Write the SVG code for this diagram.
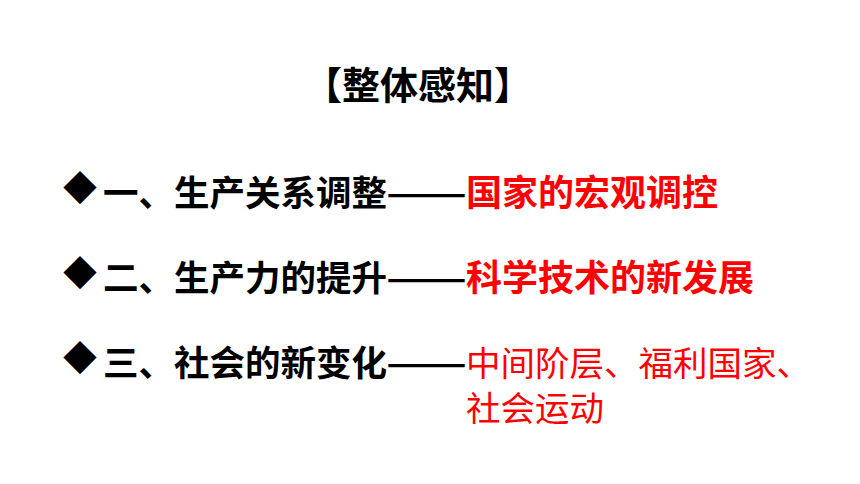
<svg xmlns="http://www.w3.org/2000/svg" width="860" height="484" viewBox="0 0 860 484">
<style>
.t{font-family:"Noto Sans CJK SC","Noto Sans",sans-serif;font-size:35.5px}
.b{font-weight:bold;fill:#000}
.d{font-size:34px}
.dash{font-size:35px;font-weight:bold;fill:#000}
.r{fill:#ff0000;font-size:36px}
.n{font-weight:normal;font-size:34.5px}
</style>
<rect width="860" height="484" fill="#fff"/>
<g id="title"><text class="t b" x="418" y="99" text-anchor="middle" style="font-size:38px">【整体感知】</text></g>
<g id="item1">
<text class="t b d" x="63" y="200.5">◆</text>
<text class="t b" x="103" y="206">一、生产关系调整</text>
<text class="t dash" x="386" y="206" textLength="81" lengthAdjust="spacingAndGlyphs">——</text>
<text class="t b r" x="466" y="206">国家的宏观调控</text>
</g>
<g id="item2">
<text class="t b d" x="63" y="285.5">◆</text>
<text class="t b" x="103" y="291">二、生产力的提升</text>
<text class="t dash" x="386" y="291" textLength="81" lengthAdjust="spacingAndGlyphs">——</text>
<text class="t b r" x="466" y="291">科学技术的新发展</text>
</g>
<g id="item3">
<text class="t b d" x="63" y="370.5">◆</text>
<text class="t b" x="103" y="376">三、社会的新变化</text>
<text class="t dash" x="386" y="376" textLength="81" lengthAdjust="spacingAndGlyphs">——</text>
<text class="t r n" x="466" y="376">中间阶层、福利国家、<tspan x="466" dy="45">社会运动</tspan></text>
</g>
<g id="connectors"/>
</svg>
